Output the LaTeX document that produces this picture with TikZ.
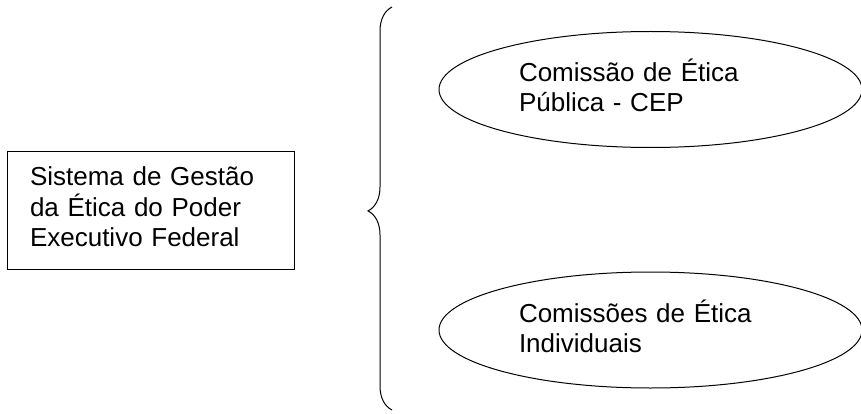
\documentclass[tikz,border=0pt]{standalone}
\usepackage{fontspec}
\setmainfont{Liberation Sans}
\usepackage{tikz}
\usetikzlibrary{shapes.geometric}
\usetikzlibrary{decorations.pathreplacing}
\usetikzlibrary{positioning}
\tikzset{
    sysbox/.style={
           rectangle,
           draw=black,
           line width=1pt,
           minimum width=287pt,
           minimum height=118pt,
           inner xsep=23pt,
           inner ysep=0pt,
           text width=241pt,
           text height=20pt,
           text depth=68.6pt,
           align=left,
           font=\fontsize{26pt}{30.5pt}\selectfont,
           },
    comissao/.style={
           ellipse,
           draw=black,
           line width=1pt,
           minimum width=423pt,
           minimum height=116pt,
           inner sep=0pt,
           text width=263pt,
           text height=25pt,
           text depth=40pt,
           align=left,
           font=\fontsize{26pt}{30pt}\selectfont,
           },
}

\begin{document}
\begin{tikzpicture}[x=1pt,y=1pt]
 \path[use as bounding box,clip] (0,0) rectangle (861,413);

 \node[sysbox] (SISTEMA) at (150.5,203)
 {Sistema de Gestão\\da Ética do Poder\\Executivo Federal};

 \node[comissao,
 on grid,
 above right=120.5pt and 500pt of SISTEMA,
 ] (CEP)
 {Comissão de Ética\\Pública - CEP};

 \node[comissao,
 node distance=240.5pt,
 below of=CEP,
 ] (CEI)
 {Comissões de Ética\\Individuais};

 % chave que agrupa as duas comissoes
 \coordinate (BRACEBOT) at (392,3);
 \coordinate (BRACETOP) at (392,406);
 \draw[line width=1pt, decorate,
   decoration={brace,amplitude=24pt,aspect=0.494}] (BRACEBOT) -- (BRACETOP);
\end{tikzpicture}
\end{document}
